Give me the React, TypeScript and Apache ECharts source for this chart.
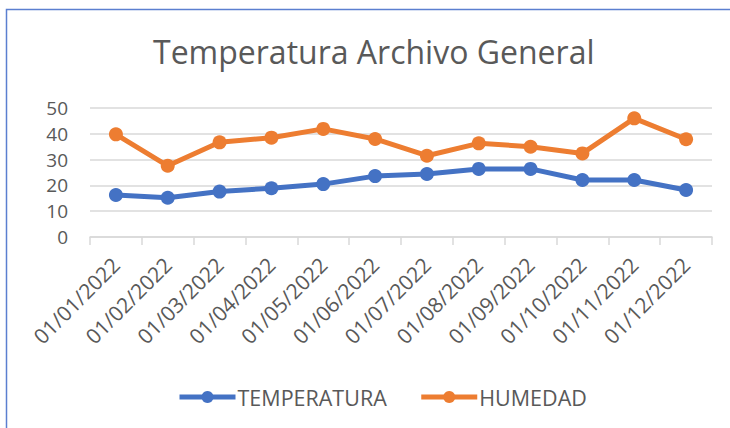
import React, { useEffect, useRef } from "react";
import * as echarts from "echarts";

const categories = [
  "01/01/2022", "01/02/2022", "01/03/2022", "01/04/2022", "01/05/2022", "01/06/2022",
  "01/07/2022", "01/08/2022", "01/09/2022", "01/10/2022", "01/11/2022", "01/12/2022",
];
const temperatura = [16.3, 15.2, 17.6, 18.9, 20.5, 23.6, 24.4, 26.4, 26.4, 22.1, 22.1, 18.2];
const humedad = [39.8, 27.6, 36.7, 38.5, 41.9, 38.0, 31.5, 36.3, 35.0, 32.4, 46.0, 37.9];
const seriesNames = ["TEMPERATURA", "HUMEDAD"];
const titleText = "Temperatura Archivo General";

const FONT = "'Open Sans', sans-serif";
const TEXT = "#595959";

export default function App() {
  const ref = useRef<HTMLDivElement>(null);
  useEffect(() => {
    if (!ref.current) return;
    const chart = echarts.init(ref.current, null, { renderer: "svg" });
    chart.setOption({
      animation: false,
      backgroundColor: "#ffffff",
      title: {
        text: titleText,
        left: 148,
        top: 30,
        textStyle: { fontFamily: FONT, fontSize: 32, fontWeight: "normal", color: TEXT },
      },
      graphic: [
        {
          type: "rect",
          shape: { x: 6.5, y: 9.5, width: 800, height: 500 },
          style: { fill: "none", stroke: "#5B7FD0", lineWidth: 1.5 },
          silent: true,
        },
      ],
      legend: {
        top: 381,
        left: 172,
        itemWidth: 56,
        itemHeight: 15,
        itemGap: 32,
        lineStyle: { width: 5 },
        textStyle: { fontFamily: FONT, fontSize: 21.5, color: TEXT, padding: [0, 0, 0, -3] },
        data: seriesNames,
      },
      grid: { left: 90, right: 18, top: 108, bottom: 191, containLabel: false },
      xAxis: {
        type: "category",
        data: categories,
        boundaryGap: true,
        axisLine: { lineStyle: { color: "#D9D9D9", width: 1.5 } },
        axisTick: { show: true, length: 8, lineStyle: { color: "#D9D9D9", width: 1.5 } },
        axisLabel: {
          rotate: 45,
          interval: 0,
          margin: 24,
          fontFamily: FONT,
          fontSize: 21,
          color: TEXT,
        },
      },
      yAxis: {
        type: "value",
        min: 0,
        max: 50,
        interval: 10,
        axisLine: { show: false },
        axisTick: { show: false },
        splitLine: { lineStyle: { color: "#D9D9D9", width: 1.5 } },
        axisLabel: { fontFamily: FONT, fontSize: 19, color: TEXT, margin: 22 },
      },
      series: [
        {
          name: seriesNames[0],
          type: "line",
          data: temperatura,
          symbol: "circle",
          symbolSize: 14,
          lineStyle: { color: "#4472C4", width: 5 },
          itemStyle: { color: "#4472C4" },
        },
        {
          name: seriesNames[1],
          type: "line",
          data: humedad,
          symbol: "circle",
          symbolSize: 14,
          lineStyle: { color: "#ED7D31", width: 5 },
          itemStyle: { color: "#ED7D31" },
        },
      ],
    });
    return () => chart.dispose();
  }, []);
  return (
    <div
      ref={ref}
      style={{ position: "fixed", left: 0, top: 0, width: 730, height: 428 }}
    />
  );
}
